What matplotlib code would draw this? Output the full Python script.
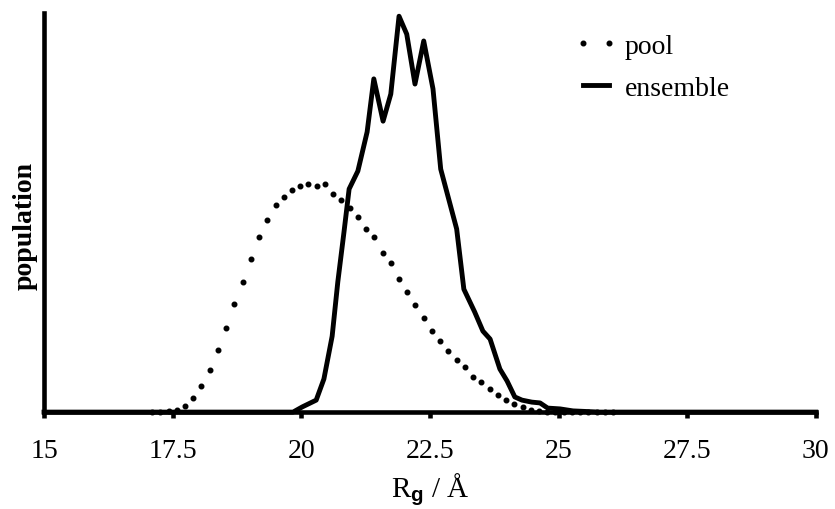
import matplotlib
matplotlib.use("Agg")
import matplotlib.pyplot as plt

plt.rcParams['font.family'] = ['Liberation Serif', 'DejaVu Serif']
plt.rcParams['mathtext.fontset'] = 'custom'
plt.rcParams['mathtext.rm'] = 'Liberation Serif'
plt.rcParams['mathtext.bf'] = 'Liberation Sans:bold'

# pool distribution (dotted)
pool_x = [17.10, 17.26, 17.42, 17.58, 17.74, 17.90, 18.06, 18.22, 18.38, 18.54,
          18.70, 18.86, 19.02, 19.18, 19.34, 19.50, 19.66, 19.82, 19.98, 20.14,
          20.30, 20.46, 20.62, 20.78, 20.94, 21.10, 21.26, 21.42, 21.58, 21.74,
          21.90, 22.06, 22.22, 22.38, 22.54, 22.70, 22.86, 23.02, 23.18, 23.34,
          23.50, 23.66, 23.82, 23.98, 24.14, 24.30, 24.46, 24.62, 24.78, 24.94,
          25.10, 25.26, 25.42, 25.58, 25.74, 25.90, 26.06]
pool_y = [0.0, 0.0, 0.0025, 0.005, 0.015, 0.035, 0.065, 0.105, 0.155, 0.211,
          0.271, 0.326, 0.383, 0.439, 0.481, 0.519, 0.539, 0.556, 0.566, 0.571,
          0.566, 0.571, 0.546, 0.531, 0.511, 0.489, 0.459, 0.439, 0.398, 0.373,
          0.333, 0.301, 0.268, 0.236, 0.203, 0.178, 0.153, 0.130, 0.113, 0.088,
          0.075, 0.058, 0.043, 0.030, 0.020, 0.013, 0.005, 0.0025, 0.001, 0.0,
          0.0, 0.0, 0.0, 0.0, 0.0, 0.0, 0.0]

# ensemble distribution (solid)
ens_x = [15.0, 19.84, 20.02, 20.29, 20.44, 20.60, 20.71, 20.83, 20.93, 21.10,
         21.28, 21.41, 21.59, 21.74, 21.90, 22.05, 22.21, 22.38, 22.56, 22.71,
         23.02, 23.16, 23.37, 23.53, 23.67, 23.86, 24.00, 24.15, 24.29, 24.48,
         24.64, 24.79, 25.03, 25.28, 25.80, 30.0]
ens_y = [0.0, 0.0, 0.013, 0.030, 0.083, 0.190, 0.326, 0.451, 0.559, 0.604,
         0.702, 0.835, 0.729, 0.797, 0.992, 0.947, 0.822, 0.930, 0.810, 0.609,
         0.459, 0.308, 0.251, 0.203, 0.183, 0.108, 0.078, 0.038, 0.030, 0.025,
         0.023, 0.010, 0.008, 0.003, 0.0, 0.0]

xticks = [15, 17.5, 20, 22.5, 25, 27.5, 30]
xticklabels = ['15', '17.5', '20', '22.5', '25', '27.5', '30']

FS = 20

fig = plt.figure(figsize=(8.35, 5.10), dpi=100)
ax = fig.add_axes([0.0527, 0.190, 0.9243, 0.7825])

ax.plot(pool_x, pool_y, linestyle='none', marker='o', markersize=3.3,
        color='black', label='pool', clip_on=False)
ax.plot(ens_x, ens_y, linestyle='-', linewidth=3.5, color='black',
        label='ensemble', clip_on=False)

ax.set_xlim(15, 30)
ax.set_ylim(0, 1.0)
ax.set_xticks(xticks)
ax.set_xticklabels(xticklabels, fontsize=FS)
ax.set_yticks([])

for side in ['top', 'right']:
    ax.spines[side].set_visible(False)
for side in ['left', 'bottom']:
    ax.spines[side].set_linewidth(3.3)
ax.tick_params(axis='x', direction='out', length=4, width=3.3, pad=15)

ax.set_xlabel(r'R$_{\mathbf{g}}$ / Å', fontsize=FS + 1, labelpad=5)
ax.set_ylabel('population', fontsize=FS, fontweight='bold')
ax.yaxis.set_label_coords(-0.008, 0.47)

leg = ax.legend(loc='upper left', bbox_to_anchor=(0.655, 1.012), frameon=False,
                fontsize=FS, numpoints=2, handlelength=1.55, handletextpad=0.25,
                labelspacing=0.6)

fig.savefig('out.png', dpi=100)
